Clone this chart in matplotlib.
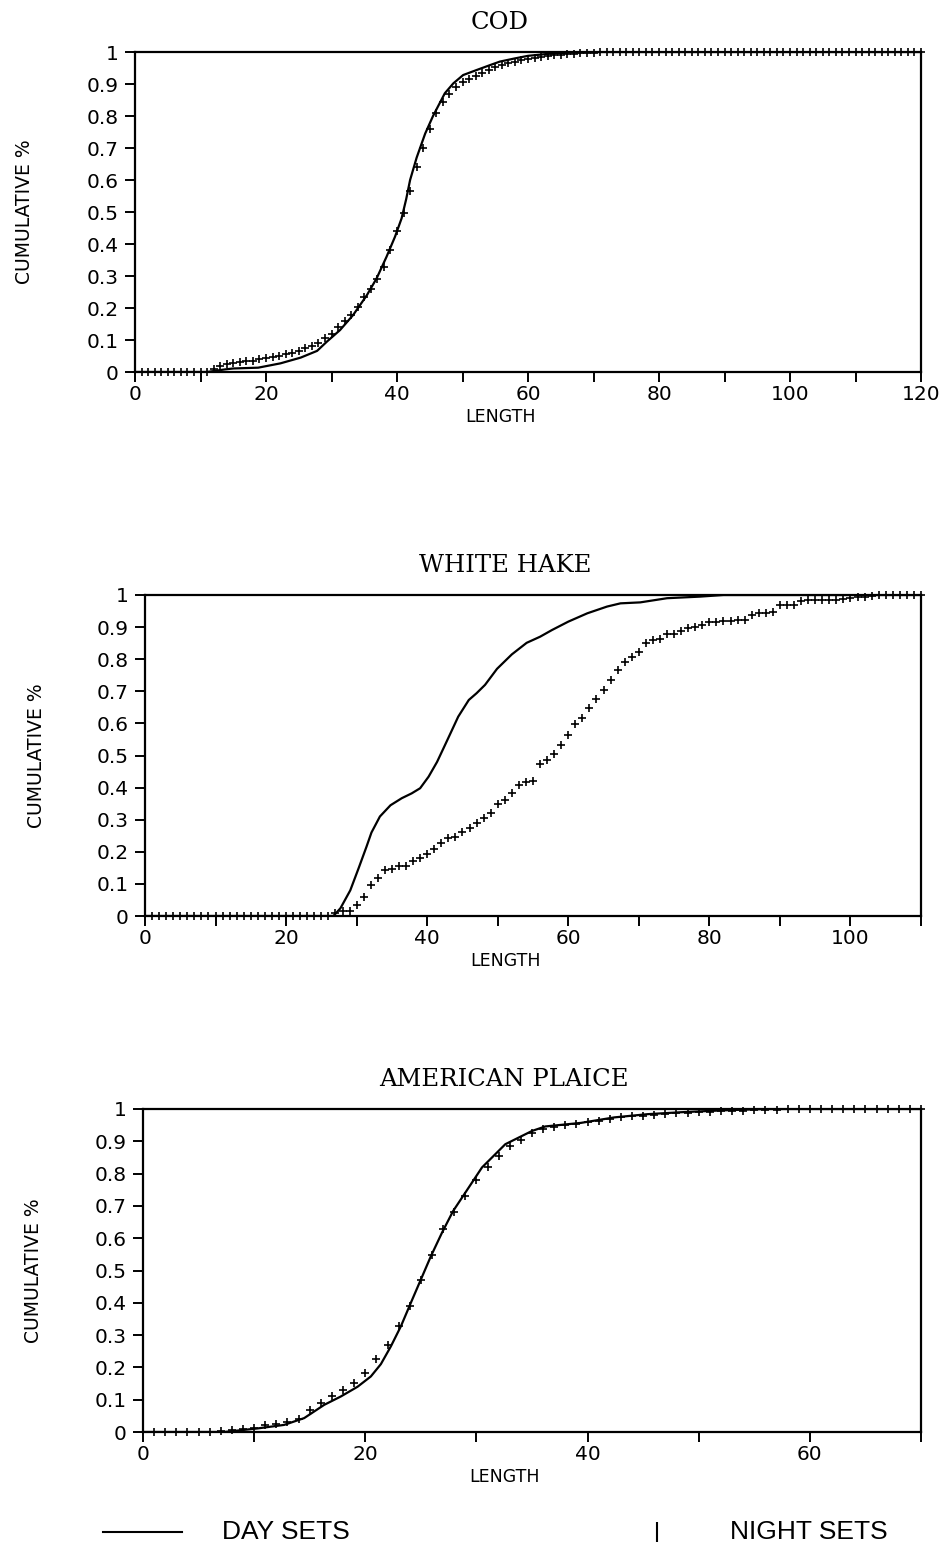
import numpy as np
import matplotlib
matplotlib.use("Agg")
from matplotlib import pyplot as plt
from matplotlib.lines import Line2D
from matplotlib.ticker import MultipleLocator, FuncFormatter

# ---- COD ----
cod_day_len = [0, 11, 13.7, 15, 18.8, 22.2, 25.3, 27.8, 29.3, 31.3, 33.3, 35.4, 36.9,
               38.4, 39.7, 40.7, 41.4, 42.0, 43.0, 44.3, 45.5, 47.3, 48.6, 50.1, 52.2,
               54.2, 55.7, 58, 60, 63, 66, 70, 120]
cod_day = [0, 0, 0.008, 0.011, 0.0135, 0.027, 0.045, 0.066, 0.095, 0.131, 0.178, 0.24,
           0.293, 0.36, 0.423, 0.48, 0.54, 0.60, 0.67, 0.745, 0.80, 0.871, 0.902,
           0.928, 0.944, 0.959, 0.97, 0.98, 0.988, 0.994, 0.998, 1.0, 1.0]
cod_night_len = np.arange(1, 121)
cod_night = ([0.0] * 11 +
             [0.008, 0.019, 0.024, 0.029, 0.031, 0.034, 0.035, 0.04, 0.043, 0.046,
              0.05, 0.055, 0.06, 0.067, 0.074, 0.082, 0.092, 0.105, 0.12, 0.14,
              0.16, 0.178, 0.204, 0.233, 0.26, 0.29, 0.327, 0.38, 0.44, 0.496,
              0.567, 0.64, 0.70, 0.76, 0.81, 0.845, 0.87, 0.89, 0.905, 0.915,
              0.925, 0.935, 0.945, 0.953, 0.96, 0.965, 0.97, 0.975, 0.978, 0.982,
              0.985, 0.988, 0.99, 0.992, 0.993, 0.995, 0.996, 0.997, 0.998] +
             [1.0] * 50)

# ---- WHITE HAKE ----
hake_day_len = [0, 26.7, 27.7, 29.1, 30.3, 31.4, 32.1, 33.3, 34.8, 36.4, 37.8, 39.0,
                40.2, 41.4, 42.3, 43.3, 44.4, 45.9, 47.0, 48.2, 49.9, 52.0, 54.1, 56.0,
                57.7, 60.0, 62.7, 65.5, 67.4, 70.2, 74.0, 78.7, 82, 110]
hake_day = [0, 0, 0.024, 0.08, 0.15, 0.216, 0.26, 0.31, 0.345, 0.367, 0.382, 0.398,
            0.434, 0.48, 0.522, 0.569, 0.621, 0.673, 0.694, 0.72, 0.77, 0.815, 0.851,
            0.87, 0.891, 0.917, 0.943, 0.964, 0.974, 0.977, 0.99, 0.995, 1.0, 1.0]
hake_night_len = np.arange(1, 111)
hake_night = ([0.0] * 26 +
              [0.008, 0.016, 0.016, 0.034, 0.058, 0.097, 0.119, 0.143, 0.145, 0.156,
               0.156, 0.171, 0.182, 0.193, 0.208, 0.226, 0.244, 0.247, 0.263, 0.273,
               0.291, 0.306, 0.322, 0.348, 0.361, 0.382, 0.408, 0.418, 0.422, 0.475,
               0.486, 0.504, 0.533, 0.564, 0.598, 0.618, 0.647, 0.675, 0.704, 0.735,
               0.766, 0.792, 0.808, 0.823, 0.85, 0.86, 0.862, 0.879, 0.88, 0.889,
               0.896, 0.899, 0.905, 0.917, 0.917, 0.92, 0.92, 0.921, 0.923, 0.938,
               0.943, 0.945, 0.946, 0.969, 0.969, 0.969, 0.982, 0.983, 0.983, 0.984,
               0.985, 0.985, 0.988, 0.99, 0.993, 0.995, 0.997] +
              [1.0] * 7)

# ---- AMERICAN PLAICE ----
plaice_day_len = [0, 7.3, 10.3, 12.7, 14.5, 16.3, 17.8, 19.3, 20.5, 21.4, 22.3, 23.2,
                  24.1, 25.0, 25.9, 26.9, 27.9, 29.0, 30.5, 32.6, 35.0, 36.2, 39.4,
                  42.4, 45.4, 48.4, 52.3, 56, 70]
plaice_day = [0, 0, 0.011, 0.022, 0.043, 0.084, 0.11, 0.14, 0.172, 0.21, 0.265, 0.327,
              0.40, 0.472, 0.544, 0.617, 0.684, 0.741, 0.819, 0.891, 0.932, 0.946, 0.957,
              0.974, 0.984, 0.99, 0.996, 1.0, 1.0]
plaice_night_len = np.arange(1, 71)
plaice_night = ([0.0] * 6 +
                [0.003, 0.007, 0.01, 0.013, 0.021, 0.026, 0.031, 0.041, 0.069, 0.09,
                 0.111, 0.13, 0.152, 0.183, 0.225, 0.269, 0.328, 0.39, 0.47, 0.549,
                 0.627, 0.68, 0.73, 0.78, 0.82, 0.855, 0.884, 0.905, 0.927, 0.937,
                 0.944, 0.95, 0.955, 0.959, 0.964, 0.969, 0.974, 0.977, 0.979, 0.982,
                 0.985, 0.987, 0.989, 0.99, 0.992, 0.993, 0.994, 0.995, 0.996, 0.997,
                 0.998] +
                [1.0] * 13)

panels = [
    ("COD", cod_day_len, cod_day, cod_night_len, cod_night, 120,
     [135 / 949, 1 - 372 / 1547, 786 / 949, 320 / 1547]),
    ("WHITE HAKE", hake_day_len, hake_day, hake_night_len, hake_night, 110,
     [145 / 949, 1 - 916 / 1547, 776 / 949, 321 / 1547]),
    ("AMERICAN PLAICE", plaice_day_len, plaice_day, plaice_night_len, plaice_night, 70,
     [143 / 949, 1 - 1432 / 1547, 778 / 949, 323 / 1547]),
]

fig = plt.figure(figsize=(9.49, 15.47), dpi=100)


def every_other(v, pos):
    return "%d" % v if int(round(v)) % 20 == 0 else ""


for title, dl, dv, nl, nv, xmax, rect in panels:
    ax = fig.add_axes(rect)
    ax.plot(dl, dv, color="black", lw=1.6)
    ax.plot(nl, nv, "+", color="black", ms=6, mew=1.2, clip_on=False)
    ax.set_xlim(0, xmax)
    ax.set_ylim(0, 1)
    ax.xaxis.set_major_locator(MultipleLocator(10))
    ax.xaxis.set_major_formatter(FuncFormatter(every_other))
    ax.yaxis.set_major_locator(MultipleLocator(0.1))
    ax.yaxis.set_major_formatter(FuncFormatter(lambda v, p: "%g" % round(v, 1)))
    ax.tick_params(direction="out", length=7, width=1.4, labelsize=14.5, pad=5,
                   color="black")
    ax.tick_params(axis="x", pad=2)
    for s in ax.spines.values():
        s.set_linewidth(1.6)
    ax.set_xlabel("LENGTH", fontsize=12.5)
    ax.xaxis.set_label_coords(0.465, -0.112)
    ax.set_ylabel("CUMULATIVE %", fontsize=13.5)
    ax.yaxis.set_label_coords(-0.128, 0.5)
    ax.text(0.464, 1.092, title, transform=ax.transAxes, ha="center", va="center",
            fontsize=17.5, family="DejaVu Serif")

# legend along the bottom
ly = 1 - 1532 / 1547
fig.add_artist(Line2D([103 / 949, 182 / 949], [ly, ly], color="black", lw=1.5))
fig.text(222 / 949, ly, "DAY SETS", fontsize=19, family="Liberation Sans", va="center")
fig.add_artist(Line2D([657 / 949], [ly], marker="|", ms=15, mew=1.5, color="black"))
fig.text(730 / 949, ly, "NIGHT SETS", fontsize=19, family="Liberation Sans", va="center")

fig.savefig("out.png", dpi=100)
